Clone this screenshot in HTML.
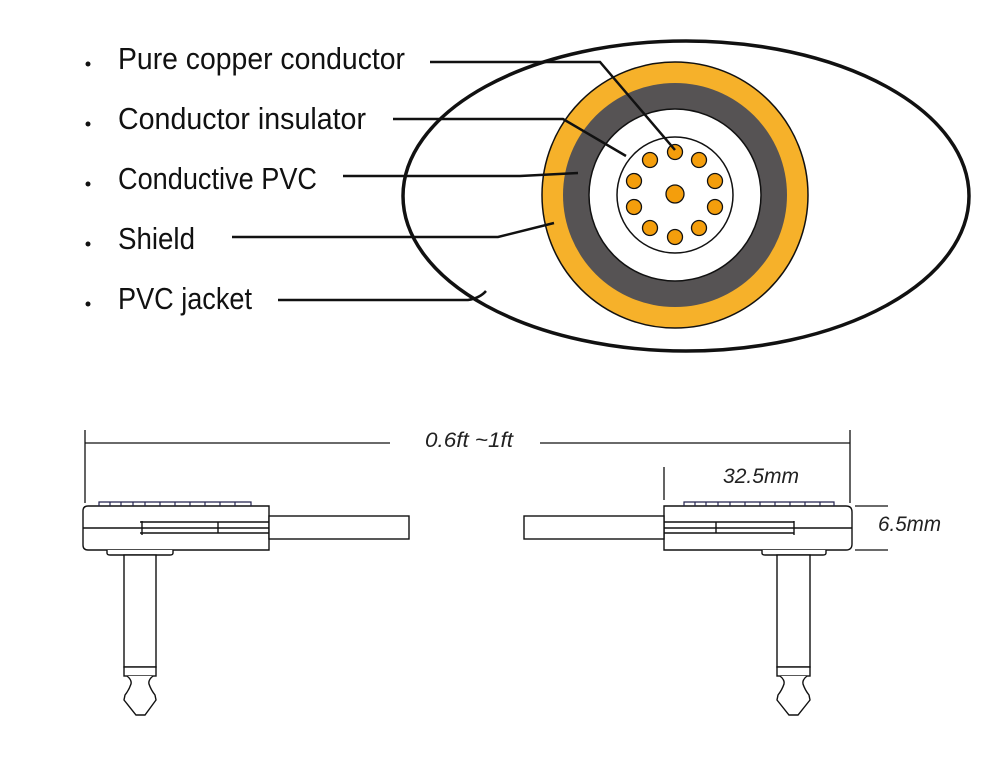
<!DOCTYPE html>
<html><head><style>html,body{margin:0;padding:0;background:#fff}svg{display:block}</style></head>
<body>
<svg width="989" height="782" viewBox="0 0 989 782" xmlns="http://www.w3.org/2000/svg">
<rect width="989" height="782" fill="#fff"/>
<ellipse cx="686" cy="196" rx="283" ry="155" fill="#fff" stroke="#111" stroke-width="3.5"/>
<circle cx="675" cy="195" r="133" fill="#f6b12a" stroke="#111" stroke-width="1.5"/>
<circle cx="675" cy="195" r="112" fill="#565354"/>
<circle cx="675" cy="195" r="86" fill="#fff" stroke="#111" stroke-width="1.5"/>
<circle cx="675" cy="195" r="58" fill="#fff" stroke="#111" stroke-width="1.5"/>
<g fill="#f49e0c" stroke="#111" stroke-width="1.3">
<circle cx="675" cy="194" r="9"/>
<circle cx="675" cy="152" r="7.5"/><circle cx="650" cy="160" r="7.5"/><circle cx="699" cy="160" r="7.5"/>
<circle cx="634" cy="181" r="7.5"/><circle cx="715" cy="181" r="7.5"/>
<circle cx="634" cy="207" r="7.5"/><circle cx="715" cy="207" r="7.5"/>
<circle cx="650" cy="228" r="7.5"/><circle cx="699" cy="228" r="7.5"/><circle cx="675" cy="237" r="7.5"/>
</g>
<g stroke="#111" stroke-width="2.5" fill="none">
<polyline points="430,62 600,62 675,150"/>
<polyline points="393,119 563,119 626,156"/>
<polyline points="343,176 520,176 578,173"/>
<polyline points="232,237 498,237 554,223"/>
<path d="M278,300 L468,300 Q480,298 486,291"/>
</g>
<g font-family="Liberation Sans, sans-serif" font-size="31" fill="#111">
<text x="118" y="69" textLength="287" lengthAdjust="spacingAndGlyphs">Pure copper conductor</text>
<text x="118" y="129" textLength="248" lengthAdjust="spacingAndGlyphs">Conductor insulator</text>
<text x="118" y="189" textLength="199" lengthAdjust="spacingAndGlyphs">Conductive PVC</text>
<text x="118" y="249" textLength="77" lengthAdjust="spacingAndGlyphs">Shield</text>
<text x="118" y="309" textLength="134" lengthAdjust="spacingAndGlyphs">PVC jacket</text>
</g>
<g fill="#111"><circle cx="88" cy="64" r="2.5"/><circle cx="88" cy="124" r="2.5"/><circle cx="88" cy="184" r="2.5"/><circle cx="88" cy="244" r="2.5"/><circle cx="88" cy="304" r="2.5"/></g>
<g stroke="#111" stroke-width="1.3" fill="none">
<line x1="85" y1="443" x2="390" y2="443"/><line x1="540" y1="443" x2="850" y2="443"/>
<line x1="85" y1="430" x2="85" y2="503"/><line x1="850" y1="430" x2="850" y2="503"/>
<line x1="664" y1="467" x2="664" y2="500"/>
<line x1="855" y1="506" x2="888" y2="506"/><line x1="855" y1="550" x2="888" y2="550"/>
</g>
<g font-family="Liberation Sans, sans-serif" font-style="italic" font-size="21" fill="#222">
<text x="425" y="447" textLength="88" lengthAdjust="spacingAndGlyphs">0.6ft ~1ft</text>
<text x="723" y="483" textLength="76" lengthAdjust="spacingAndGlyphs">32.5mm</text>
<text x="878" y="531" textLength="63" lengthAdjust="spacingAndGlyphs">6.5mm</text>
</g>
<g stroke="#111" stroke-width="1.4" fill="#fff">
<path d="M88,506 H269 V550 H88 Q83,550 83,545 V511 Q83,506 88,506 Z"/>
<rect x="269" y="516" width="140" height="23"/>
<line x1="83" y1="528" x2="269" y2="528"/>
<line x1="140" y1="522" x2="269" y2="522"/><line x1="140" y1="533" x2="269" y2="533"/>
<line x1="218" y1="522" x2="218" y2="533"/><line x1="142" y1="521" x2="142" y2="535"/>
<path d="M107,550 V553 Q107,555 110,555 H170 Q173,555 173,553 V550"/>
<rect x="124" y="555" width="32" height="112"/>
<rect x="124" y="667" width="32" height="9"/>
<path d="M127,676 Q132,680 131,684 Q129,690 125,695 L124,700 L136,715 H145 L156,700 L155,695 Q151,690 149,684 Q148,680 153,676"/>
</g>
<g stroke="#23234d" stroke-width="1.2" fill="none">
<path d="M99,506 V502 H251 V506 M110,502 V506 M121,502 V506 M133,502 V506 M145,502 V506 M160,502 V506 M175,502 V506 M190,502 V506 M205,502 V506 M220,502 V506 M235,502 V506"/>
</g>
<g stroke="#111" stroke-width="1.4" fill="#fff">
<path d="M664,506 H846 Q852,506 852,512 V544 Q852,550 846,550 H664 Z"/>
<rect x="524" y="516" width="140" height="23"/>
<line x1="664" y1="528" x2="852" y2="528"/>
<line x1="664" y1="522" x2="794" y2="522"/><line x1="664" y1="533" x2="794" y2="533"/>
<line x1="716" y1="522" x2="716" y2="533"/><line x1="794" y1="521" x2="794" y2="535"/>
<path d="M762,550 V553 Q762,555 765,555 H823 Q826,555 826,553 V550"/>
<rect x="777" y="555" width="33" height="112"/>
<rect x="777" y="667" width="33" height="9"/>
<path d="M780,676 Q785,680 784,684 Q782,690 778,695 L777,700 L789,715 H798 L810,700 L809,695 Q805,690 803,684 Q802,680 807,676"/>
</g>
<g stroke="#23234d" stroke-width="1.2" fill="none">
<path d="M684,506 V502 H834 V506 M695,502 V506 M706,502 V506 M718,502 V506 M730,502 V506 M745,502 V506 M760,502 V506 M775,502 V506 M790,502 V506 M805,502 V506 M820,502 V506"/>
</g>
</svg>
</body></html>
